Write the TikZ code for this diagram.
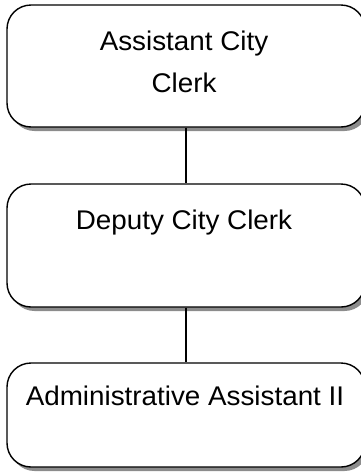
\documentclass[tikz,border=0pt]{standalone}
\usepackage{fontspec}
\setmainfont[FakeStretch=1.03]{Liberation Sans}
\usetikzlibrary{shadows}
\begin{document}
\begin{tikzpicture}[x=1pt,y=-1pt,
  posbox/.style={draw=black, line width=1.4pt, fill=white,
    rounded corners=24pt, inner sep=0pt,
    drop shadow={shadow xshift=3.5pt, shadow yshift=-4pt, fill=black!45, opacity=1}},
  postext/.style={anchor=base, inner sep=0pt, font=\fontsize{27}{41}\selectfont},
  link/.style={draw=black, line width=1.2pt}]
  \useasboundingbox (0,0) rectangle (360,472);
  % position boxes
  \node[posbox, minimum width=358pt, minimum height=122pt] (b1) at (186,66) {};
  \node[posbox, minimum width=358pt, minimum height=123pt] (b2) at (186,245.5) {};
  \node[posbox, minimum width=358pt, minimum height=104pt] (b3) at (186,415) {};
  % titles
  \node[postext] (t1a) at (184,50) {Assistant City};
  \node[postext] (t1b) at (184,92) {Clerk};
  \node[postext] (t2) at (184,229) {Deputy City Clerk};
  \node[postext] (t3) at (185,405) {Administrative Assistant II};
  % reporting lines
  \draw[link] (b1.south) -- (b2.north);
  \draw[link] (b2.south) -- (b3.north);
\end{tikzpicture}
\end{document}
